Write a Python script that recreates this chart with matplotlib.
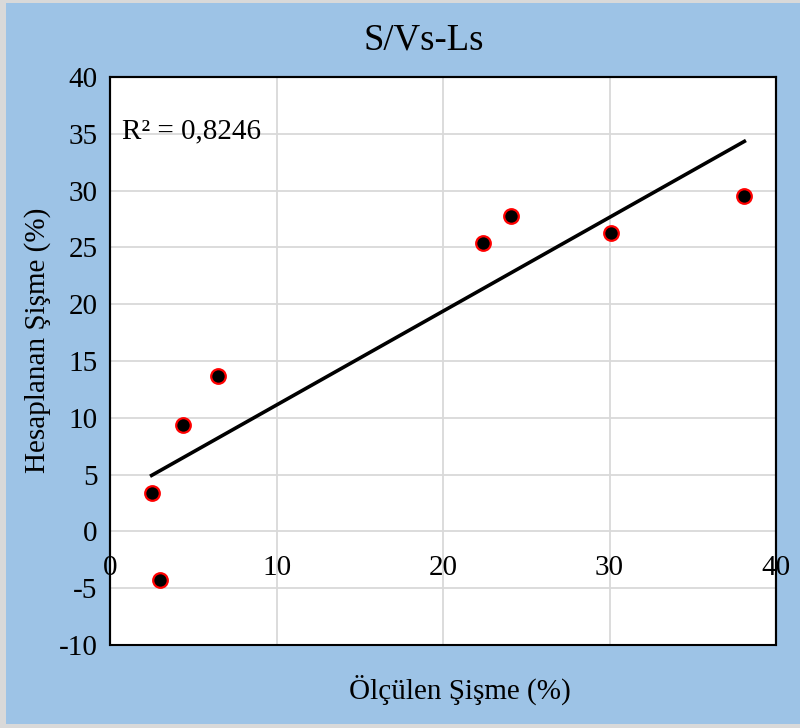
import numpy as np
import matplotlib.pyplot as plt
from matplotlib.patches import Rectangle

plt.rcParams['font.family'] = ['Liberation Serif', 'DejaVu Serif']
plt.rcParams['axes.unicode_minus'] = False

# measured vs calculated swelling
olculen = [2.5, 3.0, 4.4, 6.5, 22.4, 24.1, 30.1, 38.1]
hesaplanan = [3.4, -4.3, 9.4, 13.7, 25.4, 27.8, 26.3, 29.5]
r2_text = 'R² = 0,8246'
xticks = [0, 10, 20, 30, 40]
yticks = [-10, -5, 0, 5, 10, 15, 20, 25, 30, 35, 40]

fig = plt.figure(figsize=(8, 7.28), dpi=100, facecolor='#d9d9d9')
# blue chart area
fig.patches.append(Rectangle((6/800, 4/728), 794/800, 721/728, transform=fig.transFigure,
                             facecolor='#9dc3e6', edgecolor='none', zorder=-10))

ax = fig.add_axes([110/800, 83/728, 666/800, 568/728])
ax.set_zorder(1)
ax.set_facecolor('white')
ax.set_xlim(0, 40)
ax.set_ylim(-10, 40)
ax.set_xticks(xticks)
ax.set_yticks(yticks)
ax.grid(True, color='#d9d9d9', linewidth=1.3)
ax.set_axisbelow(True)

# trend line (linear fit)
m, b = np.polyfit(olculen, hesaplanan, 1)
xs = np.array([min(olculen), max(olculen)])
ax.plot(xs, m*xs + b, color='black', linewidth=2.6, zorder=3)

ax.plot(olculen, hesaplanan, 'o', markersize=10.5, markerfacecolor='black',
        markeredgecolor='red', markeredgewidth=1.6, zorder=4)

for s in ['top', 'left', 'right']:
    ax.spines[s].set_linewidth(1.5)
ax.spines['bottom'].set_position(('data', 0))
ax.spines['bottom'].set_visible(False)
ax.add_patch(Rectangle((0, 0), 1, 1, transform=ax.transAxes, fill=False,
                       edgecolor='black', linewidth=1.5, zorder=5, clip_on=False))
ax.tick_params(axis='both', length=0, labelsize=21)
ax.tick_params(axis='x', pad=17)
ax.tick_params(axis='y', pad=9)

ax.text(0.018, 0.905, r2_text, transform=ax.transAxes, fontsize=21, va='center', ha='left')

fig.text(424/800, 1 - 40/728, 'S/Vs-Ls', fontsize=26.5, ha='center', va='center')
fig.text(460/800, 1 - 690/728, 'Ölçülen Şişme (%)', fontsize=21, ha='center', va='center')
fig.text(38/800, 1 - 340/728, 'Hesaplanan Şişme (%)', fontsize=21, ha='center', va='center',
         rotation=90)

fig.savefig('out.png', dpi=100, facecolor=fig.get_facecolor())
